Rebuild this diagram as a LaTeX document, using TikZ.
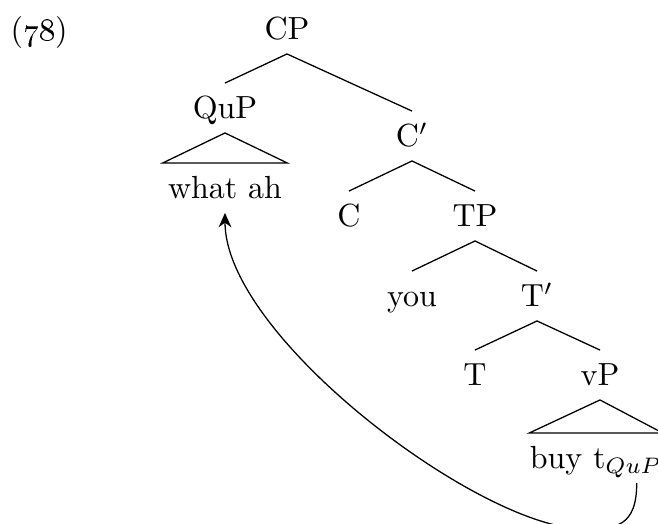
\documentclass[tikz,border=0pt]{standalone}
\usepackage{tikz}
\usetikzlibrary{positioning, arrows.meta, calc}

\begin{document}
\begin{tikzpicture}[x=0.3125pt, y=-0.3125pt,
  cat/.style={inner sep=2pt, text height=9pt, text depth=2.2pt},
  leaf/.style={cat, anchor=north, inner xsep=1.5pt},
  branch/.style={line width=0.4pt},
  move/.style={line width=0.4pt, -{Stealth[length=4.5pt, width=4pt]}},
]
\useasboundingbox (0,0) rectangle (658,524);

% ---- example number ----
\node[anchor=base west, inner sep=0pt] (ex) at (10,40) {(\oldstylenums{78})};

% ---- tree nodes ----
\node[cat] (cp)   at (287,29)  {CP};
\node[cat] (qup)  at (225,108) {QuP};
\node[leaf] (whatah) at (225,163) {what ah};
\node[cat] (cbar) at (412,136) {C$'$};
\node[cat] (c)    at (349,216) {C};
\node[cat] (tp)   at (475,216) {TP};
\node[cat] (you)  at (412,296) {you};
\node[cat] (tbar) at (537,296) {T$'$};
\node[cat] (t)    at (475,375) {T};
\node[cat] (vp)   at (600,375) {vP};
\node[leaf, inner xsep=0pt] (buyt) at (596,433) {buy t$_{QuP}$};

% ---- branches ----
\draw[branch] (cp.south) -- (qup.north);
\draw[branch] (cp.south) -- (cbar.north);
\draw[branch] (qup.south) -- (whatah.north west) -- (whatah.north east) -- cycle;
\draw[branch] (cbar.south) -- (c.north);
\draw[branch] (cbar.south) -- (tp.north);
\draw[branch] (tp.south) -- (you.north);
\draw[branch] (tp.south) -- (tbar.north);
\draw[branch] (tbar.south) -- (t.north);
\draw[branch] (tbar.south) -- (vp.north);
\draw[branch] (vp.south) -- (buyt.north west) -- (buyt.north east) -- cycle;

% ---- movement ----
\coordinate (trace) at ($(buyt.south east)+(-26,0)$);
\coordinate (bend) at ($(trace)+(-55,46)$);
\draw[move] (trace) .. controls +(0,43) and +(35,1) .. (bend)
  .. controls +(-105,-3) and +(0,123) .. (whatah.south);

\end{tikzpicture}
\end{document}
